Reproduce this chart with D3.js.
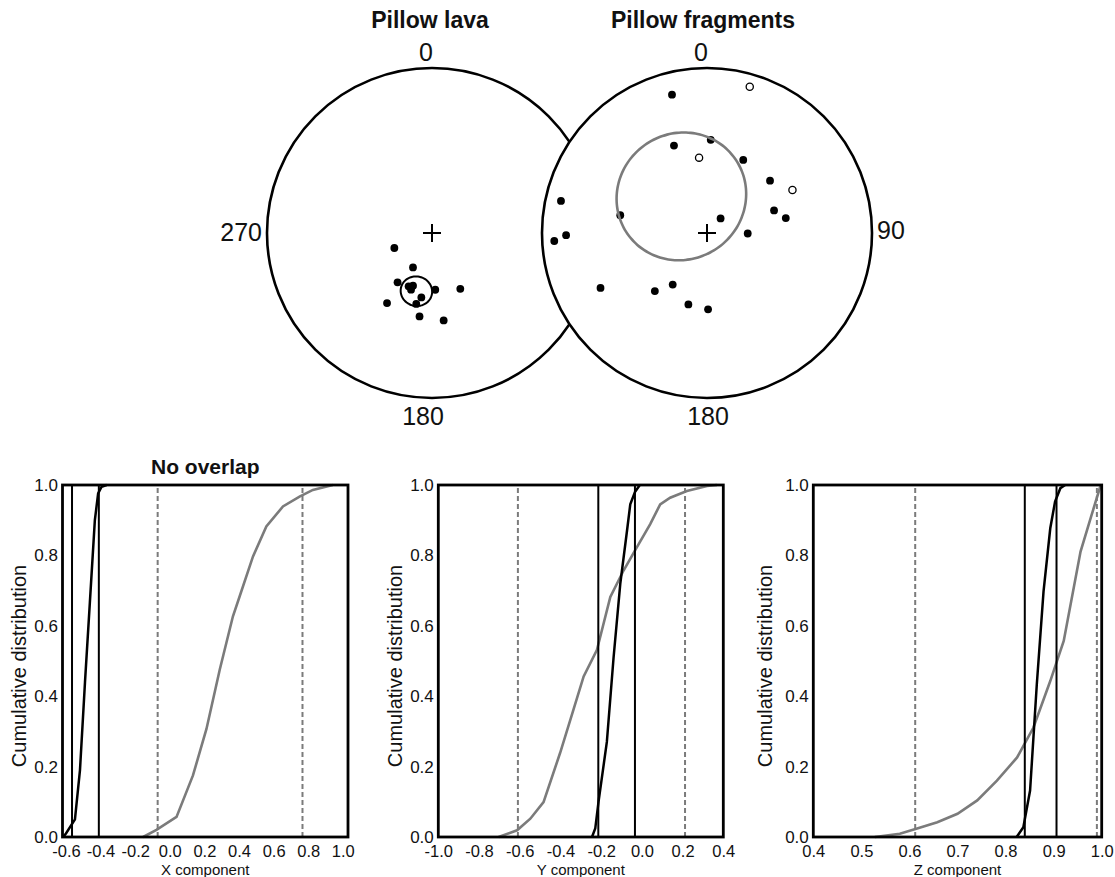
<!DOCTYPE html>
<html>
<head>
<meta charset="utf-8">
<script src="https://d3js.org/d3.v7.min.js"></script>
<style>
  body { margin: 0; background: #fff; }
  svg text { font-family: "Liberation Sans", Arial, Helvetica, sans-serif; fill: #111; }
</style>
</head>
<body>
<div id="chart"></div>
<script>
// Pillow lava site directions (declination / inclination, degrees)
var lavaDec = [248.3, 208.9, 214.9, 203.7, 199.8, 200.3, 176.7, 153.1, 212.7, 189.4, 192.5, 188.5, 172.4];
var lavaInc = [70.0, 70.6, 60.1, 61.1, 62.2, 60.0, 61.8, 58.9, 48.2, 57.5, 53.7, 47.6, 45.6];
// mean direction: dec, inc, a95
var lavaMean = [195, 60, 7.5];

// Pillow fragments directions, negative inclination = upper hemisphere (open symbol)
var fragDec = [345.8, 339.3, 2.3, 26.4, 50.3, 71.4, 79.3, 43.0, 90.7, 281.6, 282.4, 269.1, 267.0,
               242.7, 221.9, 213.6, 194.6, 179.2, 16.3, 354.0, 63.3];
var fragInc = [14.6, 42.8, 42.9, 49.1, 48.9, 54.7, 49.8, 80.2, 69.9, 45.4, 10.3, 15.7, 8.1,
               28.2, 50.9, 59.2, 53.1, 51.8, -8.5, -52.1, -41.6];
var fragMean = [325, 67, 32];

// Bootstrap cumulative distributions of the cartesian components
var xLavaVal = [-0.616, -0.600, -0.548, -0.519, -0.490, -0.462, -0.433, -0.414, -0.394, -0.365];
var xLavaCum = [0, 0.01, 0.05, 0.19, 0.44, 0.665, 0.90, 0.976, 0.995, 1.0];
var xFragVal = [-0.154, -0.077, 0.039, 0.134, 0.212, 0.289, 0.365, 0.404, 0.481, 0.558, 0.654, 0.750, 0.827, 0.942];
var xFragCum = [0, 0.02, 0.057, 0.175, 0.307, 0.476, 0.627, 0.684, 0.797, 0.882, 0.939, 0.967, 0.986, 1.0];
var xLavaBounds = [-0.565, -0.41];
var xFragBounds = [-0.07, 0.767];

var yLavaVal = [-0.245, -0.229, -0.213, -0.172, -0.139, -0.106, -0.073, -0.057, -0.034, -0.010];
var yLavaCum = [0, 0.024, 0.10, 0.27, 0.51, 0.72, 0.87, 0.945, 0.98, 1.0];
var yFragVal = [-0.704, -0.613, -0.548, -0.483, -0.401, -0.336, -0.286, -0.221, -0.155, -0.090,
                -0.025, 0.041, 0.090, 0.139, 0.221, 0.320, 0.369];
var yFragCum = [0, 0.019, 0.052, 0.099, 0.24, 0.362, 0.456, 0.531, 0.682, 0.757,
                0.823, 0.889, 0.945, 0.964, 0.983, 0.997, 1.0];
var yLavaBounds = [-0.214, -0.034];
var yFragBounds = [-0.609, 0.212];

var zLavaVal = [0.823, 0.837, 0.851, 0.865, 0.879, 0.893, 0.903, 0.914, 0.924];
var zLavaCum = [0, 0.028, 0.132, 0.434, 0.698, 0.877, 0.953, 0.991, 1.0];
var zFragVal = [0.528, 0.580, 0.616, 0.658, 0.700, 0.741, 0.782, 0.824, 0.858, 0.893, 0.921, 0.956, 0.977, 0.998];
var zFragCum = [0, 0.009, 0.024, 0.042, 0.066, 0.104, 0.16, 0.226, 0.311, 0.443, 0.557, 0.811, 0.906, 1.0];
var zLavaBounds = [0.840, 0.906];
var zFragBounds = [0.612, 0.990];

// Tick values
var xTicks = [-0.6, -0.4, -0.2, 0.0, 0.2, 0.4, 0.6, 0.8, 1.0];
var yTicks = [-1.0, -0.8, -0.6, -0.4, -0.2, 0.0, 0.2, 0.4];
var zTicks = [0.4, 0.5, 0.6, 0.7, 0.8, 0.9, 1.0];
var cumTicks = [0, 0.2, 0.4, 0.6, 0.8, 1.0];

var GREY = "#7b7b7b";
var rad = Math.PI / 180;

var svg = d3.select("#chart").append("svg")
    .attr("width", 1115)
    .attr("height", 877);

// ---------- Equal-area stereonets ----------

// Lambert/Schmidt equal-area: direction -> unit-circle coordinates (east, north)
function equalArea(dec, inc) {
  var colat = (90 - Math.abs(inc)) * rad;
  var r = Math.SQRT2 * Math.sin(colat / 2);
  return [r * Math.sin(dec * rad), r * Math.cos(dec * rad)];
}

function dirToVec(dec, inc) {
  return [Math.cos(inc * rad) * Math.cos(dec * rad), Math.cos(inc * rad) * Math.sin(dec * rad), Math.sin(inc * rad)];
}

// small circle of radius a95 around the mean, as a list of [dec, inc]
function smallCircle(dec, inc, a95) {
  var m = dirToVec(dec, inc);
  var u = dirToVec(dec, inc - 90);
  var v = [m[1] * u[2] - m[2] * u[1], m[2] * u[0] - m[0] * u[2], m[0] * u[1] - m[1] * u[0]];
  var ca = Math.cos(a95 * rad), sa = Math.sin(a95 * rad);
  return d3.range(0, 360, 4).map(function(t) {
    var ct = Math.cos(t * rad), st = Math.sin(t * rad);
    var p = [0, 1, 2].map(function(k) { return ca * m[k] + sa * (ct * u[k] + st * v[k]); });
    return [Math.atan2(p[1], p[0]) / rad, Math.asin(p[2]) / rad];
  });
}

function drawNet(opt) {
  var R = 165;
  var sx = d3.scaleLinear().domain([-1, 1]).range([opt.cx - R, opt.cx + R]);
  var sy = d3.scaleLinear().domain([-1, 1]).range([opt.cy + R, opt.cy - R]);
  var g = svg.append("g").attr("class", "net");

  g.append("circle")
    .attr("cx", sx(0)).attr("cy", sy(0)).attr("r", sx(1) - sx(0))
    .attr("fill", opt.fill).attr("stroke", "#000").attr("stroke-width", 2.6);

  // centre cross
  g.append("path")
    .attr("d", "M" + (sx(0) - 9) + "," + sy(0) + "h18M" + sx(0) + "," + (sy(0) - 9) + "v18")
    .attr("stroke", "#000").attr("stroke-width", 2);

  var pts = opt.dec.map(function(d, i) { return {dec: d, inc: opt.inc[i]}; });
  g.selectAll(".dot")
    .data(pts)
    .enter()
    .append("circle")
    .attr("class", "dot")
    .attr("cx", function(d) { return sx(equalArea(d.dec, d.inc)[0]); })
    .attr("cy", function(d) { return sy(equalArea(d.dec, d.inc)[1]); })
    .attr("r", function(d) { return d.inc < 0 ? 3.6 : 3.9; })
    .attr("fill", function(d) { return d.inc < 0 ? "#fff" : "#000"; })
    .attr("stroke", "#000")
    .attr("stroke-width", function(d) { return d.inc < 0 ? 1.3 : 0; });

  // a95 confidence circle
  var ring = smallCircle(opt.mean[0], opt.mean[1], opt.mean[2]);
  g.append("path")
    .datum(ring)
    .attr("d", d3.line()
      .x(function(d) { return sx(equalArea(d[0], d[1])[0]); })
      .y(function(d) { return sy(equalArea(d[0], d[1])[1]); })
      .curve(d3.curveCardinalClosed))
    .attr("fill", "none")
    .attr("stroke", opt.meanColor)
    .attr("stroke-width", opt.meanWidth);

  g.append("text")
    .attr("x", sx(0) + opt.titleDx).attr("y", 28)
    .attr("text-anchor", "middle")
    .style("font-size", "23px").style("font-weight", "bold")
    .text(opt.title);

  g.append("text").attr("x", sx(0) + opt.northDx).attr("y", sy(1) - 7)
    .attr("text-anchor", "middle").style("font-size", "25px").text("0");
  g.append("text").attr("x", sx(0) + opt.southDx).attr("y", sy(-1) + 27)
    .attr("text-anchor", "middle").style("font-size", "25px").text("180");
  if (opt.side == "west") {
    g.append("text").attr("x", sx(-1) - 5).attr("y", sy(0) + 8)
      .attr("text-anchor", "end").style("font-size", "25px").text("270");
  } else {
    g.append("text").attr("x", sx(1) + 5).attr("y", sy(0) + 6)
      .attr("text-anchor", "start").style("font-size", "25px").text("90");
  }
}

drawNet({title: "Pillow lava", cx: 432, cy: 233, dec: lavaDec, inc: lavaInc, mean: lavaMean,
         meanColor: "#000", meanWidth: 2, fill: "none", side: "west", titleDx: -2, northDx: -6, southDx: -9});
drawNet({title: "Pillow fragments", cx: 707, cy: 233, dec: fragDec, inc: fragInc, mean: fragMean,
         meanColor: GREY, meanWidth: 2.6, fill: "#fff", side: "east", titleDx: -4, northDx: -6, southDx: 1});

// ---------- Cumulative distribution panels ----------

var panels = [
  {x0: 62.5, x1: 348, domain: [-0.62, 1.03], ticks: xTicks, label: "X component", title: "No overlap", labelDx: -37,
   lava: [xLavaVal, xLavaCum], frag: [xFragVal, xFragCum], lavaB: xLavaBounds, fragB: xFragBounds},
  {x0: 438.3, x1: 723.3, domain: [-1.0, 0.4], ticks: yTicks, label: "Y component", title: "", labelDx: -36,
   lava: [yLavaVal, yLavaCum], frag: [yFragVal, yFragCum], lavaB: yLavaBounds, fragB: yFragBounds},
  {x0: 813.3, x1: 1101.7, domain: [0.4, 1.0], ticks: zTicks, label: "Z component", title: "", labelDx: -41,
   lava: [zLavaVal, zLavaCum], frag: [zFragVal, zFragCum], lavaB: zLavaBounds, fragB: zFragBounds}
];

var plotTop = 485, plotBottom = 837;
var yScale = d3.scaleLinear().domain([0, 1]).range([plotBottom, plotTop]);

panels.forEach(function(p) {
  var xScale = d3.scaleLinear().domain(p.domain).range([p.x0, p.x1]);
  var g = svg.append("g").attr("class", "cdf");

  var line = d3.line()
    .x(function(d) { return xScale(d[0]); })
    .y(function(d) { return yScale(d[1]); });

  // fragments 95% bounds (dashed)
  g.selectAll(".fragB")
    .data(p.fragB)
    .enter()
    .append("line")
    .attr("x1", function(d) { return xScale(d); }).attr("x2", function(d) { return xScale(d); })
    .attr("y1", yScale(0)).attr("y2", yScale(1))
    .attr("stroke", GREY).attr("stroke-width", 2).attr("stroke-dasharray", "5,3");

  g.append("path")
    .datum(d3.zip(p.frag[0], p.frag[1]))
    .attr("d", line)
    .attr("fill", "none").attr("stroke", GREY).attr("stroke-width", 2.6);

  // lava 95% bounds (solid black)
  g.selectAll(".lavaB")
    .data(p.lavaB)
    .enter()
    .append("line")
    .attr("x1", function(d) { return xScale(d); }).attr("x2", function(d) { return xScale(d); })
    .attr("y1", yScale(0)).attr("y2", yScale(1))
    .attr("stroke", "#000").attr("stroke-width", 2);

  g.append("path")
    .datum(d3.zip(p.lava[0], p.lava[1]))
    .attr("d", line)
    .attr("fill", "none").attr("stroke", "#000").attr("stroke-width", 2.5);

  // frame
  g.append("rect")
    .attr("x", p.x0).attr("y", plotTop)
    .attr("width", p.x1 - p.x0).attr("height", plotBottom - plotTop)
    .attr("fill", "none").attr("stroke", "#000").attr("stroke-width", 2.8);

  var xAxis = d3.axisBottom(xScale).tickValues(p.ticks).tickSize(0).tickPadding(8)
    .tickFormat(function(d) { return d.toFixed(1); });
  var gx = g.append("g").attr("transform", "translate(0," + plotBottom + ")").call(xAxis);
  gx.select(".domain").remove();
  gx.selectAll("text").style("font-size", "16.5px").attr("fill", "#111");

  var yAxis = d3.axisLeft(yScale).tickValues(cumTicks).tickSize(0).tickPadding(4.5)
    .tickFormat(function(d) { return d.toFixed(1); });
  var gy = g.append("g").attr("transform", "translate(" + p.x0 + ",0)").call(yAxis);
  gy.select(".domain").remove();
  gy.selectAll("text").style("font-size", "17px").attr("fill", "#111");

  g.append("text")
    .attr("x", (p.x0 + p.x1) / 2).attr("y", 875)
    .attr("text-anchor", "middle").style("font-size", "15px")
    .text(p.label);

  g.append("text")
    .attr("transform", "translate(" + (p.x0 + p.labelDx) + "," + ((plotTop + plotBottom) / 2 + 5) + ")rotate(-90)")
    .attr("text-anchor", "middle").style("font-size", "20px")
    .text("Cumulative distribution");

  if (p.title) {
    g.append("text")
      .attr("x", (p.x0 + p.x1) / 2).attr("y", 474)
      .attr("text-anchor", "middle").style("font-size", "21px").style("font-weight", "bold")
      .text(p.title);
  }
});
</script>
</body>
</html>
